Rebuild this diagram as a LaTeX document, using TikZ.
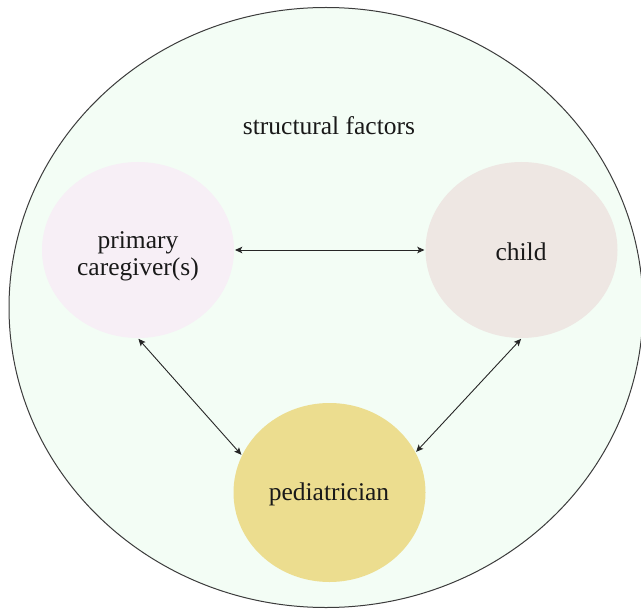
\documentclass[tikz,border=0pt]{standalone}
\usepackage{fontspec}
\setmainfont{Liberation Serif}
\usetikzlibrary{arrows.meta,shapes.geometric}
\definecolor{bgfill}{RGB}{243,253,245}
\definecolor{bgline}{RGB}{60,60,60}
\definecolor{pcfill}{RGB}{247,239,246}
\definecolor{chfill}{RGB}{238,231,227}
\definecolor{pedfill}{RGB}{236,221,143}
\tikzset{
  bubble/.style={ellipse, draw=none, minimum width=96pt, minimum height=88pt, inner sep=0pt},
  lbl/.style={anchor=base, align=center, inner sep=0pt, text=black!90, font=\fontsize{12.75}{13.2}\selectfont},
  link/.style={{Stealth[length=3.6pt,width=3.2pt,inset=0.8pt]}-{Stealth[length=3.6pt,width=3.2pt,inset=0.8pt]}, line width=0.45pt, draw=black!85, shorten <=0.3pt, shorten >=0.3pt}
}
\begin{document}
\begin{tikzpicture}[x=0.5pt,y=-0.5pt]
\useasboundingbox (0,0) rectangle (641,609);
\fill[white] (0,0) rectangle (641,609);
\clip (0,0) rectangle (641,609);
\filldraw[fill=bgfill, draw=bgline, line width=0.5pt] (326,307.5) ellipse [x radius=158.5pt, y radius=150pt];
\node[bubble, fill=pcfill] (pc) at (138,250) {};
\node[bubble, fill=chfill] (ch) at (521.5,250) {};
\node[bubble, fill=pedfill, minimum height=89.5pt] (ped) at (329.5,492.5) {};
\node[lbl] (sf) at (329,135) {structural factors};
\node[lbl] (pct) at (138,275) {primary\\caregiver(s)};
\node[lbl] (cht) at (521,260) {child};
\node[lbl] (pedt) at (329,500.5) {pediatrician};
\draw[link] (pc.east) -- (ch.west);
\draw[link] (pc.south) -- (ped.157);
\draw[link] (ch.south) -- (ped.25);
\end{tikzpicture}
\end{document}
